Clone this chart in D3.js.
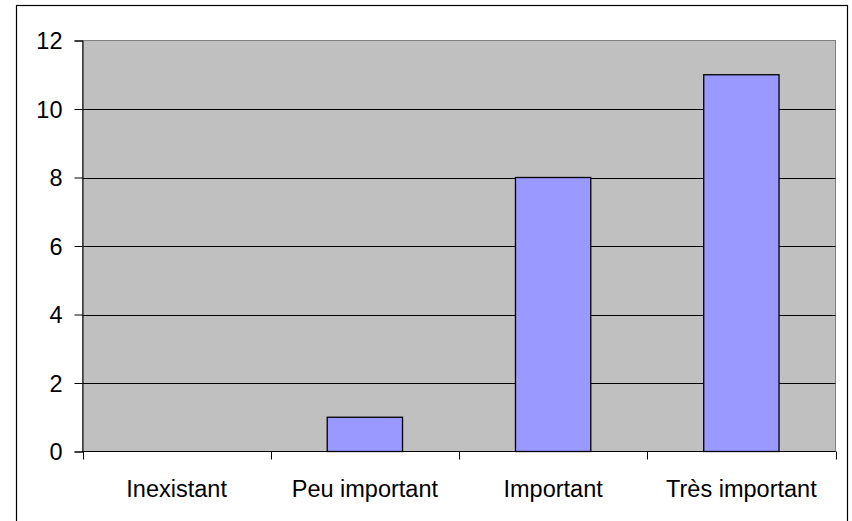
<!DOCTYPE html>
<html>
<head>
<meta charset="utf-8">
<script src="https://cdn.jsdelivr.net/npm/d3@7"></script>
<style>
  html, body { margin: 0; padding: 0; background: #fff; }
  svg { display: block; }
  text { font-family: "Liberation Sans", Arial, sans-serif; fill: #000; }
</style>
</head>
<body>
<svg id="chart" width="852" height="521"></svg>
<script>
// Responses per importance level
const categories = ["Inexistant", "Peu important", "Important", "Très important"];
const counts = [0, 1, 8, 11];
const yTicks = [0, 2, 4, 6, 8, 10, 12];

const W = 852, H = 521;
const plot = { left: 82.5, right: 835.5, top: 40.5, bottom: 451.5 };
const fontSize = 23.5;

const svg = d3.select("#chart");

// Outer chart frame
svg.append("rect")
  .attr("x", 16.5).attr("y", 5.5)
  .attr("width", 831).attr("height", H)
  .attr("fill", "#fff").attr("stroke", "#000").attr("stroke-width", 1.2);

const x = d3.scaleBand()
  .domain(categories)
  .range([plot.left, plot.right])
  .paddingInner(0).paddingOuter(0);

const y = d3.scaleLinear()
  .domain([0, 12])
  .range([plot.bottom, plot.top]);

// Plot area background with grey border
svg.append("rect")
  .attr("x", plot.left).attr("y", plot.top)
  .attr("width", plot.right - plot.left).attr("height", plot.bottom - plot.top)
  .attr("fill", "#C0C0C0").attr("stroke", "#808080").attr("stroke-width", 1);

// Horizontal gridlines
svg.append("g")
  .selectAll("line")
  .data(yTicks.filter(t => t > 0 && t < 12))
  .join("line")
  .attr("x1", plot.left).attr("x2", plot.right)
  .attr("y1", d => Math.round(y(d)) + 0.5).attr("y2", d => Math.round(y(d)) + 0.5)
  .attr("stroke", "#000").attr("stroke-width", 1);

// Bars (Excel-style gap width 150%)
const barW = x.bandwidth() / 2.5;
svg.append("g")
  .selectAll("rect")
  .data(categories.map((c, i) => ({ c, v: counts[i] })).filter(d => d.v > 0))
  .join("rect")
  .attr("x", d => x(d.c) + (x.bandwidth() - barW) / 2)
  .attr("y", d => y(d.v))
  .attr("width", barW)
  .attr("height", d => y(0) - y(d.v))
  .attr("fill", "#9999FF").attr("stroke", "#000").attr("stroke-width", 1.3);

// Y axis
const yAxis = d3.axisLeft(y)
  .tickValues(yTicks)
  .tickSize(8)
  .tickPadding(12)
  .tickFormat(d3.format("d"));
const gy = svg.append("g")
  .attr("transform", `translate(${plot.left},0)`)
  .call(yAxis);
gy.select(".domain").attr("stroke", "#000");
gy.selectAll(".tick line").attr("stroke", "#000");
gy.selectAll(".tick text")
  .attr("font-size", fontSize)
  .attr("font-family", "'Liberation Sans', Arial, sans-serif")
  .attr("dy", "0.36em");

// X axis
const xAxis = d3.axisBottom(x).tickSize(0).tickPadding(0);
const gx = svg.append("g")
  .attr("transform", `translate(0,${plot.bottom})`)
  .call(xAxis);
gx.select(".domain").attr("stroke", "#000").attr("d", `M${plot.left},0H${plot.right}`);
gx.selectAll(".tick line").remove();
gx.selectAll(".tick text")
  .attr("font-size", fontSize)
  .attr("font-family", "'Liberation Sans', Arial, sans-serif")
  .attr("y", 45).attr("dy", 0);

// Category separator ticks
svg.append("g")
  .selectAll("line")
  .data(categories.map(c => x(c)).concat([plot.right]))
  .join("line")
  .attr("x1", d => Math.round(d) + 0.5).attr("x2", d => Math.round(d) + 0.5)
  .attr("y1", plot.bottom).attr("y2", plot.bottom + 8)
  .attr("stroke", "#000");
</script>
</body>
</html>
